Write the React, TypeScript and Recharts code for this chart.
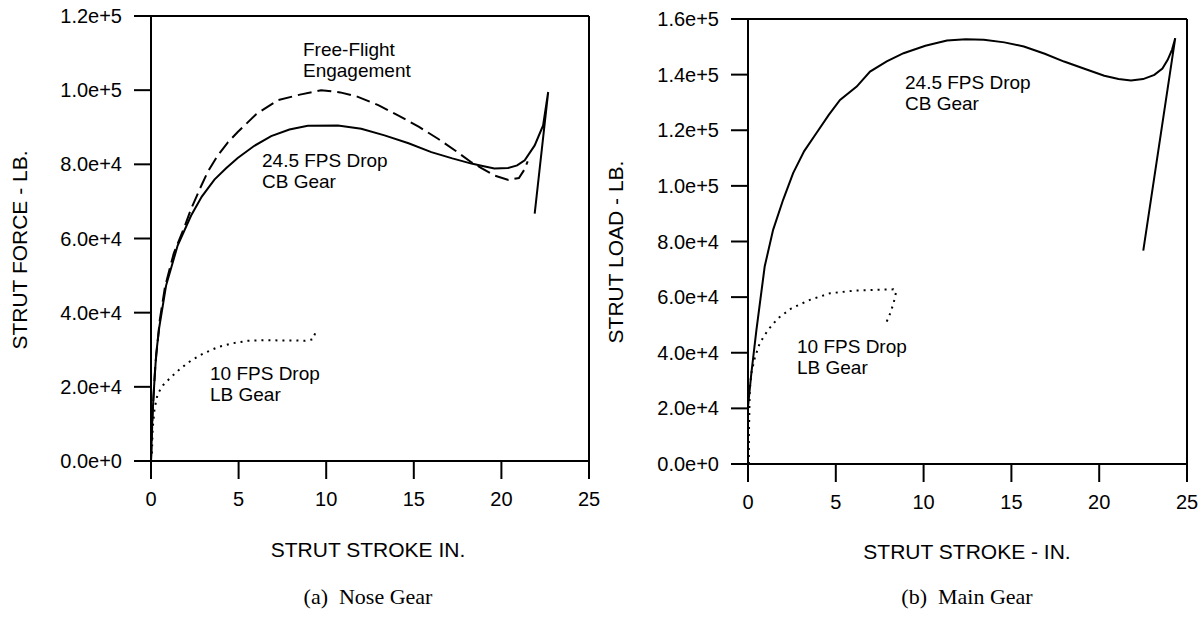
import React from 'react';
import { LineChart, Line, XAxis, YAxis, ReferenceLine } from 'recharts';

// strut stroke (in.) vs. force / load (lb.)
const NOSE_CB_X = [0, 0.08, 0.2, 0.3, 0.47, 0.86, 1.52, 2.29, 2.9, 3.62, 4.3, 4.95, 5.9, 6.86, 7.9, 8.95, 10.67, 12, 13.33, 14.7, 16, 17.2, 18.29, 18.86, 19.6, 20.38, 20.9, 21.33, 21.9, 22.38, 22.67, 21.9];
const NOSE_CB_Y = [0, 12000, 22000, 29000, 36000, 47300, 58100, 66200, 71300, 75900, 79000, 81700, 85000, 87600, 89400, 90400, 90500, 89600, 87800, 85700, 83300, 81600, 80200, 79600, 78900, 79000, 79700, 81100, 85100, 90500, 99500, 66700];

const NOSE_FF_X = [0, 0.1, 0.25, 0.5, 0.8, 1.3, 1.9, 2.29, 2.8, 3.24, 3.8, 4.4, 4.95, 6.0, 7.24, 8.5, 9.71, 10.8, 11.81, 13, 14.1, 15.3, 16.38, 17.4, 18.3, 18.86, 19.6, 20.4, 21.0, 21.3, 21.5];
const NOSE_FF_Y = [0, 14000, 26000, 38000, 47000, 56000, 63000, 68000, 73500, 78000, 82300, 86000, 88700, 93500, 97300, 98800, 100000, 99400, 98200, 95900, 93200, 90100, 86900, 83600, 80500, 79000, 77000, 75800, 76300, 78500, 80800];

const NOSE_LB_X = [0.05, 0.1, 0.2, 0.38, 0.7, 1.14, 1.7, 2.29, 3.0, 3.81, 4.6, 5.52, 6.5, 7.43, 8.3, 8.76, 9.24, 9.3, 9.43];
const NOSE_LB_Y = [2000, 9000, 14000, 18100, 20500, 22600, 25000, 27100, 29000, 30700, 31700, 32400, 32600, 32500, 32500, 32400, 32800, 33700, 35000];

const MAIN_CB_X = [0, 0.19, 0.48, 0.95, 1.43, 2.0, 2.57, 3.2, 3.9, 4.6, 5.24, 6.19, 6.95, 7.9, 8.86, 10.1, 11.33, 12.4, 13.43, 14.6, 15.71, 16.9, 18, 19.2, 20.29, 21.1, 21.81, 22.5, 23.14, 23.6, 23.9, 24.15, 24.33, 22.51];
const MAIN_CB_Y = [20500, 32600, 48200, 71000, 84200, 95000, 104600, 112500, 119000, 125500, 130900, 135700, 141100, 144800, 147700, 150400, 152300, 152700, 152500, 151600, 150100, 147500, 144700, 142000, 139600, 138400, 137900, 138400, 139900, 142200, 145300, 149000, 153100, 76700];

const MAIN_LB_X = [0.05, 0.05, 0.08, 0.1, 0.19, 0.38, 0.67, 1.14, 1.71, 2.48, 3.52, 4.67, 6.0, 7.14, 8.29, 8.44, 8.29, 8.1, 7.9];
const MAIN_LB_Y = [0, 10000, 20000, 26600, 32600, 38000, 43500, 48200, 52400, 56000, 59000, 61400, 62300, 62600, 62800, 62000, 57800, 54200, 51200];

const STROKE_TICKS = [0, 5, 10, 15, 20, 25];
const NOSE_FORCE_TICKS = [0, 20000, 40000, 60000, 80000, 100000, 120000];
const MAIN_LOAD_TICKS = [0, 20000, 40000, 60000, 80000, 100000, 120000, 140000, 160000];

const zip = (xs: number[], ys: number[]) => xs.map((x, i) => ({ x, y: ys[i] }));

const SANS = '"Liberation Sans", Arial, sans-serif';
const SERIF = '"Liberation Serif", "Times New Roman", serif';
const axisStroke = { stroke: '#000', strokeWidth: 2 };
const tickStyle = { fill: '#000', fontSize: 20, fontFamily: SANS };

type Series = { data: { x: number; y: number }[]; dash?: string };

function GearChart(props: {
  left: number;
  width: number;
  margin: { top: number; right: number; bottom: number; left: number };
  yWidth: number;
  yMax: number;
  yTicks: number[];
  series: Series[];
}) {
  const { left, width, margin, yWidth, yMax, yTicks, series } = props;
  return (
    <div style={{ position: 'absolute', left, top: 0 }}>
      <LineChart width={width} height={620} margin={margin}>
        <XAxis
          type="number"
          dataKey="x"
          domain={[0, 25]}
          ticks={STROKE_TICKS}
          interval={0}
          height={60}
          tickSize={18}
          tickMargin={13}
          axisLine={axisStroke}
          tickLine={axisStroke}
          tick={tickStyle}
          allowDataOverflow
        />
        <YAxis
          type="number"
          domain={[0, yMax]}
          ticks={yTicks}
          interval={0}
          width={yWidth}
          tickSize={17}
          tickMargin={12}
          tickFormatter={(v: number) => v.toExponential(1)}
          axisLine={axisStroke}
          tickLine={axisStroke}
          tick={tickStyle}
          allowDataOverflow
        />
        <ReferenceLine x={25} stroke="#000" strokeWidth={2} />
        <ReferenceLine y={yMax} stroke="#000" strokeWidth={2} />
        {series.map((s, i) => (
          <Line
            key={i}
            data={s.data}
            dataKey="y"
            type="linear"
            stroke="#000"
            strokeWidth={2}
            strokeDasharray={s.dash}
            dot={false}
            activeDot={false}
            isAnimationActive={false}
          />
        ))}
      </LineChart>
    </div>
  );
}

function Note({ left, top, lines }: { left: number; top: number; lines: string[] }) {
  return (
    <div style={{ position: 'absolute', left, top, fontFamily: SANS, fontSize: 19, lineHeight: '21px', whiteSpace: 'nowrap', color: '#000' }}>
      {lines.map((l) => (
        <div key={l}>{l}</div>
      ))}
    </div>
  );
}

function Centered({ x, y, text, serif, rotate }: { x: number; y: number; text: string; serif?: boolean; rotate?: boolean }) {
  return (
    <div
      style={{
        position: 'absolute',
        left: x,
        top: y,
        transform: `translate(-50%, -50%)${rotate ? ' rotate(-90deg)' : ''}`,
        fontFamily: serif ? SERIF : SANS,
        fontSize: serif ? 22 : 21,
        whiteSpace: 'pre',
        color: '#000',
      }}
    >
      {text}
    </div>
  );
}

export default function App() {
  return (
    <div style={{ position: 'absolute', left: 0, top: 0, width: 1202, height: 620, background: '#fff', overflow: 'hidden' }}>
      <GearChart
        left={0}
        width={600}
        margin={{ top: 16, right: 11, bottom: 99, left: 11 }}
        yWidth={140}
        yMax={120000}
        yTicks={NOSE_FORCE_TICKS}
        series={[
          { data: zip(NOSE_CB_X, NOSE_CB_Y) },
          { data: zip(NOSE_FF_X, NOSE_FF_Y), dash: '14 6' },
          { data: zip(NOSE_LB_X, NOSE_LB_Y), dash: '2 5' },
        ]}
      />
      <GearChart
        left={600}
        width={602}
        margin={{ top: 19, right: 15, bottom: 96, left: 18 }}
        yWidth={130}
        yMax={160000}
        yTicks={MAIN_LOAD_TICKS}
        series={[
          { data: zip(MAIN_CB_X, MAIN_CB_Y) },
          { data: zip(MAIN_LB_X, MAIN_LB_Y), dash: '2 5' },
        ]}
      />

      <Note left={303} top={39} lines={['Free-Flight', 'Engagement']} />
      <Note left={262} top={150} lines={['24.5 FPS Drop', 'CB Gear']} />
      <Note left={210} top={363} lines={['10 FPS Drop', 'LB Gear']} />
      <Note left={905} top={72} lines={['24.5 FPS Drop', 'CB Gear']} />
      <Note left={797} top={336} lines={['10 FPS Drop', 'LB Gear']} />

      <Centered x={368} y={550} text="STRUT STROKE IN." />
      <Centered x={967} y={552} text="STRUT STROKE - IN." />
      <Centered x={20} y={250} text="STRUT FORCE - LB." rotate />
      <Centered x={616} y={252} text="STRUT LOAD - LB." rotate />
      <Centered x={368} y={597} text="(a)  Nose Gear" serif />
      <Centered x={967} y={597} text="(b)  Main Gear" serif />
    </div>
  );
}
